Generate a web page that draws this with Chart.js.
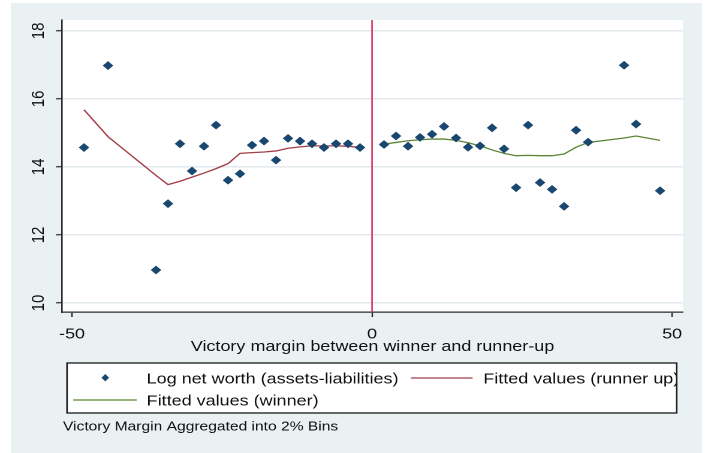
<!DOCTYPE html>
<html><head><meta charset="utf-8">
<script src="https://cdn.jsdelivr.net/npm/chart.js@4.4.1/dist/chart.umd.min.js"></script>
<style>
html,body{margin:0;padding:0;background:#fff;overflow:hidden;width:705px;height:453px;}
#wrap{position:absolute;left:0;top:0;width:588px;height:453px;transform:scaleX(1.19898);transform-origin:0 0;}
canvas{display:block;}
</style></head><body>
<div id="wrap"><canvas id="c" width="588" height="453"></canvas></div>
<script>
// ---- data ----
const binX = [-48,-44,-36,-34,-32,-30,-28,-26,-24,-22,-20,-18,-16,-14,-12,-10,-8,-6,-4,-2,
              2,4,6,8,10,12,14,16,18,20,22,24,26,28,30,32,34,36,42,44,48];
const logNetWorth = [14.57,16.98,10.97,12.92,14.68,13.88,14.61,15.23,13.61,13.80,
                     14.64,14.76,14.20,14.84,14.76,14.68,14.57,14.68,14.68,14.57,
                     14.66,14.91,14.61,14.87,14.96,15.19,14.85,14.58,14.62,15.15,
                     14.53,13.39,15.23,13.54,13.34,12.84,15.08,14.73,16.99,15.26,13.30];
const runnerX = [-48,-44,-36,-34,-32,-30,-28,-26,-24,-22,-20,-18,-16,-14,-12,-10,-8,-6,-4,-2];
const runnerFit = [15.68,14.89,13.75,13.48,13.58,13.70,13.82,13.95,14.10,14.40,
                   14.42,14.44,14.47,14.55,14.59,14.62,14.62,14.62,14.61,14.57];
const winnerX = [2,4,6,8,10,12,14,16,18,20,22,24,26,28,30,32,34,36,42,44,48];
const winnerFit = [14.67,14.72,14.77,14.80,14.82,14.82,14.78,14.71,14.62,14.50,
                   14.40,14.33,14.34,14.33,14.33,14.38,14.58,14.72,14.85,14.91,14.78];
const xTicks = [-50, 0, 50];
const yTicks = [10, 12, 14, 16, 18];
const refLineX = 0;
const xTitle = 'Victory margin between winner and runner-up';
const legendLabels = ['Log net worth (assets-liabilities)', 'Fitted values (runner up)', 'Fitted values (winner)'];
const noteText = 'Victory Margin Aggregated into 2% Bins';

// ---- styles ----
const FONT = '"Liberation Sans", Arial, sans-serif';
const NAVY = '#1a476f', RED = '#a33d47', GREEN = '#5c8637', REF = '#d9345e';
const PANEL = '#e9f1f3', GRID = '#e2eaed', AXIS = '#2a2a2a', TEXT = '#111111';

function diamond(ctx, x, y, rx, ry) {
  ctx.beginPath();
  ctx.moveTo(x, y - ry); ctx.lineTo(x + rx, y); ctx.lineTo(x, y + ry); ctx.lineTo(x - rx, y);
  ctx.closePath(); ctx.fill();
}

const bgPlugin = {
  id: 'bg',
  beforeDraw(chart) {
    const { ctx, chartArea: a } = chart;
    ctx.save();
    ctx.fillStyle = '#fff'; ctx.fillRect(0, 0, chart.width, chart.height);
    ctx.fillStyle = PANEL; ctx.fillRect(9.2, 3, 585.5 - 9.2, 453 - 3);
    ctx.fillStyle = '#fff'; ctx.fillRect(a.left, a.top, a.right - a.left, a.bottom - a.top);
    ctx.restore();
  },
  beforeDatasetsDraw(chart) {
    const { ctx, chartArea: a, scales: { x } } = chart;
    const px = x.getPixelForValue(refLineX);
    ctx.save();
    ctx.strokeStyle = REF; ctx.lineWidth = 1.3;
    ctx.beginPath(); ctx.moveTo(px, a.top); ctx.lineTo(px, a.bottom); ctx.stroke();
    ctx.restore();
  },
  afterDraw(chart) {
    const { ctx, chartArea: a, scales: { x, y } } = chart;
    ctx.save();
    ctx.fillStyle = TEXT;
    // y tick labels (rotated)
    ctx.font = '15px ' + FONT;
    ctx.textAlign = 'center'; ctx.textBaseline = 'middle';
    yTicks.forEach(v => {
      const py = y.getPixelForValue(v);
      ctx.save(); ctx.translate(32.5, py); ctx.rotate(-Math.PI / 2);
      ctx.fillText(String(v), 0, 0); ctx.restore();
    });
    // x tick labels
    ctx.textBaseline = 'alphabetic';
    xTicks.forEach(v => { ctx.fillText(String(v), x.getPixelForValue(v), 338.5); });
    // x title
    ctx.fillText(xTitle, (a.left + a.right) / 2, 351);
    // legend box
    const bx = 55.9, by = 363, bw = 564.4 - 55.9, bh = 50;
    ctx.fillStyle = '#fff'; ctx.fillRect(bx, by, bw, bh);
    ctx.save();
    ctx.beginPath(); ctx.rect(bx, by, bw, bh); ctx.clip();
    ctx.fillStyle = NAVY; diamond(ctx, 87.8, 377.7, 3.2, 3.7);
    ctx.lineWidth = 1.3;
    ctx.strokeStyle = RED; ctx.beginPath(); ctx.moveTo(342.8, 378); ctx.lineTo(394.2, 378); ctx.stroke();
    ctx.strokeStyle = GREEN; ctx.beginPath(); ctx.moveTo(61.1, 400); ctx.lineTo(114, 400); ctx.stroke();
    ctx.fillStyle = TEXT; ctx.textAlign = 'left'; ctx.font = '15px ' + FONT;
    ctx.fillText(legendLabels[0], 122.3, 383.5);
    ctx.fillText(legendLabels[1], 403.1, 383.5);
    ctx.fillText(legendLabels[2], 122.3, 405.5);
    ctx.restore();
    ctx.strokeStyle = '#1a1a1a'; ctx.lineWidth = 1.3;
    ctx.strokeRect(bx, by, bw, bh);
    // note
    ctx.fillStyle = TEXT; ctx.textAlign = 'left'; ctx.font = '13px ' + FONT;
    ctx.fillText(noteText, 52.5, 430.5);
    ctx.restore();
  }
};

new Chart(document.getElementById('c'), {
  data: {
    datasets: [
      { type: 'scatter', label: legendLabels[0], order: 0,
        data: binX.map((v, i) => ({ x: v, y: logNetWorth[i] })),
        pointStyle: 'rectRot', pointRadius: 4.4, pointBorderWidth: 0,
        pointBackgroundColor: NAVY, backgroundColor: NAVY },
      { type: 'line', label: legendLabels[1], order: 1,
        data: runnerX.map((v, i) => ({ x: v, y: runnerFit[i] })),
        borderColor: RED, borderWidth: 1.3, pointRadius: 0, tension: 0, fill: false },
      { type: 'line', label: legendLabels[2], order: 1,
        data: winnerX.map((v, i) => ({ x: v, y: winnerFit[i] })),
        borderColor: GREEN, borderWidth: 1.3, pointRadius: 0, tension: 0, fill: false }
    ]
  },
  options: {
    responsive: false, animation: false, devicePixelRatio: 2,
    layout: { padding: { left: 0, right: 18.3, top: 20, bottom: 0 } },
    plugins: { legend: { display: false }, tooltip: { enabled: false } },
    scales: {
      x: {
        type: 'linear', min: -51.67, max: 51.83,
        afterBuildTicks: s => { s.ticks = xTicks.map(v => ({ value: v })); },
        afterFit: s => { s.height = 141; },
        grid: { drawOnChartArea: false, drawTicks: true, tickLength: 5, tickColor: AXIS, tickWidth: 1.2 },
        border: { display: true, color: AXIS, width: 1.3 },
        ticks: { display: false }
      },
      y: {
        type: 'linear', min: 9.735, max: 18.32,
        afterBuildTicks: s => { s.ticks = yTicks.map(v => ({ value: v })); },
        afterFit: s => { s.width = 51.7; },
        grid: { color: GRID, lineWidth: 1.5, drawTicks: true, tickLength: 5, tickColor: AXIS, tickWidth: 1.2 },
        border: { display: true, color: AXIS, width: 1.3 },
        ticks: { display: false }
      }
    }
  },
  plugins: [bgPlugin]
});
</script>
</body></html>
